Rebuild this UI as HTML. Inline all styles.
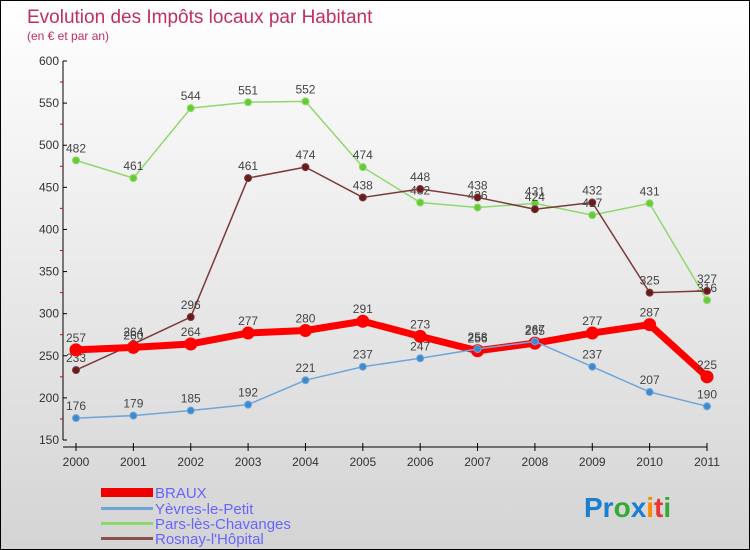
<!DOCTYPE html>
<html><head><meta charset="utf-8"><style>
body{margin:0}
#wrap{width:748px;height:548px;border:1px solid #000;background:linear-gradient(#fff,#d4d4d4);position:relative;font-family:"Liberation Sans",sans-serif;overflow:hidden}
text{font-family:"Liberation Sans",sans-serif}
</style></head><body>
<div id="wrap">
<svg id="svg" width="748" height="548">
<text x="26" y="22" font-size="19" fill="#c0305a">Evolution des Impôts locaux par Habitant</text>
<text x="26" y="39" font-size="12" fill="#c0305a">(en € et par an)</text>
<g id="axes"></g><g id="series"></g>
<g>
<rect x="100" y="487" width="52" height="9" fill="#e00"/>
<text x="154" y="497" font-size="15" fill="#66f">BRAUX</text>
<rect x="100" y="506" width="52" height="3" fill="#6fa6d8"/>
<text x="154" y="513" font-size="15" fill="#66f">Yèvres-le-Petit</text>
<rect x="100" y="521" width="52" height="3" fill="#8fd870"/>
<text x="154" y="528" font-size="15" fill="#66f">Pars-lès-Chavanges</text>
<rect x="100" y="536" width="52" height="3" fill="#8a5050"/>
<text x="154" y="543" font-size="15" fill="#66f">Rosnay-l'Hôpital</text>
</g>
<g font-size="28" font-weight="bold">
<text x="583" y="516"><tspan fill="#1a7fd0">Pr</tspan><tspan fill="#3a3">o</tspan><tspan fill="#1a7fd0">x</tspan><tspan fill="#f80">i</tspan><tspan fill="#e33">t</tspan><tspan fill="#3a3">i</tspan></text>
</g>
</svg></div>
<script>
const years=["2000","2001","2002","2003","2004","2005","2006","2007","2008","2009","2010","2011"];
const yTicks=[150,200,250,300,350,400,450,500,550,600];
const braux=[257,260,264,277,280,291,273,256,265,277,287,225];
const yevres=[176,179,185,192,221,237,247,258,267,237,207,190];
const pars=[482,461,544,551,552,474,432,426,431,417,431,316];
const rosnay=[233,264,296,461,474,438,448,438,424,432,325,327];
const NS="http://www.w3.org/2000/svg";
const x=i=>75+i*(631/11);
const y=v=>439-(v-150)*(379/450);
function mk(t,a,p){const e=document.createElementNS(NS,t);for(const k in a)e.setAttribute(k,a[k]);p.appendChild(e);return e;}
const ax=document.getElementById('axes');
const ya=mk('line',{x1:62,y1:60,x2:62,y2:439,stroke:'#000'},ax);


const xa=mk('line',{x1:62,y1:446,x2:706,y2:446,stroke:'#000'},ax);


yTicks.forEach(v=>{mk('line',{x1:62,y1:y(v),x2:66,y2:y(v),stroke:'#000'},ax);
const t=mk('text',{x:58,y:y(v)+4,'font-size':12,'text-anchor':'end',fill:'#333'},ax);t.textContent=v;


if(v<600)mk('line',{x1:59,y1:y(v+25),x2:62,y2:y(v+25),stroke:'#d00'},ax);});
years.forEach((yr,i)=>{mk('line',{x1:x(i),y1:442,x2:x(i),y2:450,stroke:'#000'},ax);
const t=mk('text',{x:x(i),y:465,'font-size':12,'text-anchor':'middle',fill:'#333'},ax);t.textContent=yr;

});
const sg=document.getElementById('series');
function draw(d,name,col,w,r,fill){
const g=mk('g',{},sg);


mk('polyline',{points:d.map((v,i)=>x(i)+','+y(v)).join(' '),fill:'none',stroke:col,'stroke-width':w,'stroke-linejoin':'round'},g);
d.forEach((v,i)=>{const c=mk('circle',{cx:x(i),cy:y(v),r:r,fill:fill,stroke:col,'stroke-width':1},g);


const t=mk('text',{x:x(i),y:y(v)-8,'font-size':12,'text-anchor':'middle',fill:'#444'},g);t.textContent=v;

});}
draw(pars,'pars','#8fd870',1.5,3.5,'#6c3');
draw(rosnay,'rosnay','#7a3a3a',1.5,3.5,'#6a1a1a');
draw(braux,'braux','#f00',7,6,'#f00');
draw(yevres,'yevres','#6fa6d8',1.5,3.5,'#3d8ad0');
</script>
</body></html>
